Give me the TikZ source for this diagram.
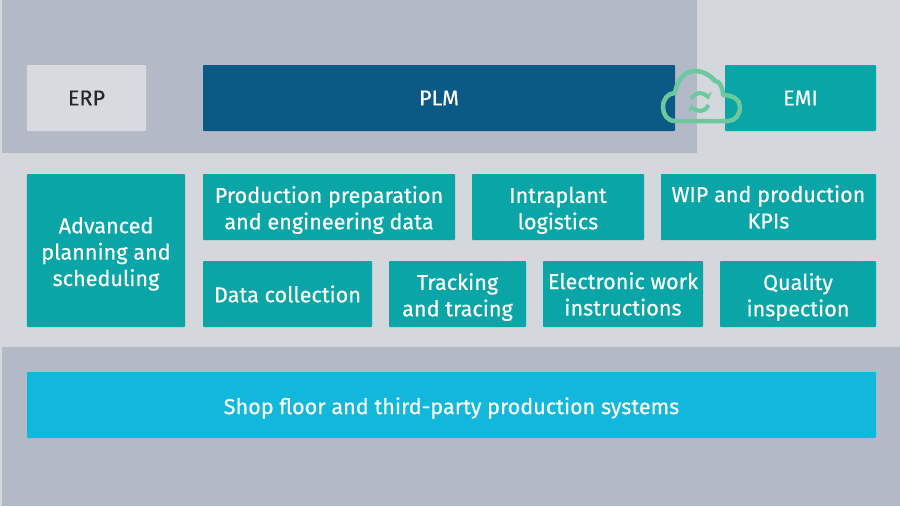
\documentclass[tikz,border=0pt]{standalone}
\usepackage{fontspec}
\setmainfont{Fira Sans}[FakeBold=0.35]
\usetikzlibrary{arrows.meta}
\definecolor{lightband}{HTML}{D4D7DC}
\definecolor{darkband}{HTML}{B4B9C8}
\definecolor{tealbox}{HTML}{0AA5A7}
\definecolor{plmblue}{HTML}{0B5A85}
\definecolor{erpgrey}{HTML}{D8DAE0}
\definecolor{shopblue}{HTML}{12B8DC}
\definecolor{cloudgreen}{HTML}{6DC8A0}
\newcommand{\lowerline}{\rule{0pt}{13pt}}
\tikzset{
  module/.style={fill=tealbox, text=white, rounded corners=0.5pt, inner sep=0pt, align=center, font=\fontsize{12.3}{15}\selectfont},
  cloudline/.style={draw=cloudgreen, line width=0.09cm, line join=round}
}

\begin{document}
\begin{tikzpicture}
\useasboundingbox (0, 0) rectangle (18, 10.12);
\fill[lightband] (0, 0) rectangle (18, 10.12);
\fill[darkband] (0.04, 7.06) rectangle (13.94, 10.12);
\fill[darkband] (0.04, 0) rectangle (18, 3.18);

\node[module, fill=erpgrey, text=black!85, minimum width=2.38cm, minimum height=1.32cm] (erp) at (1.73, 8.16) {ERP};
\node[module, fill=plmblue, minimum width=9.44cm, minimum height=1.32cm] (plm) at (8.78, 8.16) {PLM};
\node[module, minimum width=3.02cm, minimum height=1.32cm] (emi) at (16.01, 8.16) {EMI};

\node[module, minimum width=3.16cm, minimum height=3.06cm] (aps) at (2.12, 5.11) {\lowerline Advanced\\planning and\\scheduling};
\node[module, minimum width=5.04cm, minimum height=1.32cm] (prep) at (6.58, 5.98) {\lowerline Production preparation\\and engineering data};
\node[module, minimum width=3.44cm, minimum height=1.32cm] (logistics) at (11.16, 5.98) {\lowerline Intraplant\\logistics};
\node[module, minimum width=4.30cm, minimum height=1.32cm] (wip) at (15.37, 5.98) {WIP and production\\KPIs};

\node[module, minimum width=3.38cm, minimum height=1.32cm] (collection) at (5.75, 4.24) {Data collection};
\node[module, minimum width=2.74cm, minimum height=1.32cm] (tracking) at (9.15, 4.24) {\lowerline Tracking\\and tracing};
\node[module, minimum width=3.20cm, minimum height=1.32cm] (work) at (12.46, 4.24) {Electronic work\\instructions};
\node[module, minimum width=3.12cm, minimum height=1.32cm] (quality) at (15.96, 4.24) {\lowerline Quality\\inspection};

\node[module, fill=shopblue, minimum width=16.98cm, minimum height=1.32cm] (shop) at (9.03, 2.02) {\lowerline Shop floor and third-party production systems};

% cloud
\draw[cloudline] (13.5, 7.70) .. controls (13.34, 7.70) and (13.26, 7.84) .. (13.26, 7.98)
  .. controls (13.26, 8.14) and (13.36, 8.26) .. (13.5, 8.26)
  .. controls (13.54, 8.52) and (13.7, 8.70) .. (13.9, 8.70)
  .. controls (14.06, 8.70) and (14.2, 8.62) .. (14.3, 8.50)
  .. controls (14.4, 8.50) and (14.46, 8.36) .. (14.46, 8.22)
  .. controls (14.66, 8.22) and (14.8, 8.12) .. (14.8, 7.98)
  .. controls (14.8, 7.82) and (14.7, 7.70) .. (14.56, 7.70) -- cycle;
\draw[cloudline, line width=0.08cm, -{Stealth[length=0.14cm, width=0.2cm]}] (13.83, 8.14) arc (160:15:0.18);
\draw[cloudline, line width=0.08cm, -{Stealth[length=0.14cm, width=0.2cm]}] (14.17, 8.02) arc (-20:-165:0.18);
\end{tikzpicture}
\end{document}
